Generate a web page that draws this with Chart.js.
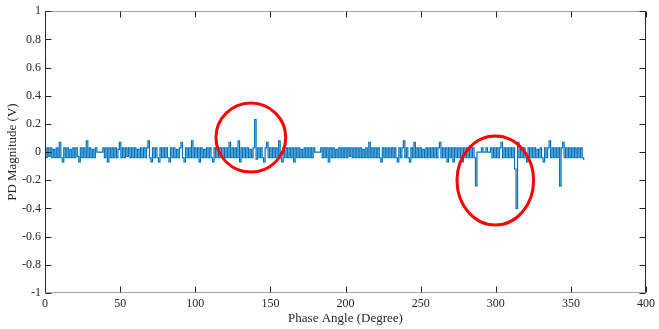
<!DOCTYPE html>
<html>
<head>
<meta charset="utf-8">
<script src="https://cdn.jsdelivr.net/npm/chart.js@4.4.0/dist/chart.umd.min.js"></script>
<style>
  html, body { margin: 0; padding: 0; background: #ffffff; }
  #wrap { width: 659px; height: 329px; }
</style>
</head>
<body>
<div id="wrap"><canvas id="pdChart"></canvas></div>
<script>
const lineBlue = '#0072BD';
const axisDark = '#262626';
const axisGrey = '#a6a6a6';
const ringRed = '#FF0000';
const serif = "'Liberation Serif', 'Times New Roman', serif";

// sampling grid: one sample per degree starting at 0
const phaseStart = 0;
const phaseStep = 1;

// PD magnitude (V), one value per degree 0..359
const magnitude = [
    0.03,-0.04,0.03,-0.03,0.03,-0.04,0.02,-0.04,0.03,-0.04,
    0.07,-0.04,-0.07,0.03,-0.04,0.03,-0.04,0.02,-0.04,0.03,
    -0.04,0.03,-0.03,-0.07,0.03,-0.04,0.03,-0.04,0.08,-0.04,
    0.03,-0.04,0.02,-0.04,0.03,0,0,0,0,0.03,
    -0.04,0.03,-0.07,0.03,-0.04,0.03,-0.04,0.03,-0.04,0.02,
    0.07,-0.04,0.03,-0.04,0.03,-0.03,0.03,-0.04,0.03,-0.04,
    0.03,-0.04,0.02,-0.04,0.03,-0.04,0.03,-0.04,0.03,0.08,
    -0.04,-0.07,0.03,-0.04,0.03,-0.04,-0.07,0.03,-0.04,0.03,
    -0.04,0.03,-0.04,-0.07,0.03,-0.04,0.03,-0.04,0.02,-0.04,
    0.03,0.07,-0.04,-0.07,0.03,-0.04,0.03,-0.04,0.08,-0.04,
    0.03,-0.04,0.03,-0.07,0.03,-0.04,0.02,-0.04,0.03,-0.04,
    0.03,-0.04,-0.07,0.03,-0.04,0.03,-0.04,0.03,-0.03,0.03,
    -0.04,0.03,-0.04,0.07,-0.04,0.03,-0.04,0.03,-0.04,0.08,
    -0.07,0.03,-0.04,0.03,-0.04,0.03,-0.04,0.02,-0.04,0.03,
    0.23,-0.05,0.03,-0.04,0.03,-0.04,-0.07,0.03,0.07,-0.04,
    0.03,-0.04,0.03,-0.04,0.03,-0.04,0.08,-0.04,-0.07,0.03,
    -0.04,0.03,-0.04,0.03,-0.04,0.03,-0.07,0.03,-0.04,0.03,
    -0.04,0.02,-0.04,0.03,-0.04,0.03,-0.04,0.03,-0.04,0.03,
    0,0,0,0,0.03,-0.04,0.03,-0.04,0.03,-0.07,
    0.03,-0.04,0.03,-0.04,0.02,-0.04,0.03,-0.04,0.03,-0.04,
    0.03,-0.04,0.03,-0.03,0.03,-0.04,0.03,-0.04,0.03,-0.04,
    0.03,-0.04,0.02,-0.04,0.03,-0.04,0.07,-0.04,0.03,-0.04,
    0.03,-0.04,0.03,-0.04,-0.07,0.03,-0.04,0.03,-0.04,0.03,
    -0.04,0.03,-0.04,0.03,-0.04,-0.07,0.03,-0.04,0.03,0.08,
    -0.04,0.03,-0.04,-0.07,0.03,-0.04,0.07,-0.04,0.03,-0.04,
    0.03,-0.04,0.02,-0.04,0.03,-0.04,0.03,-0.04,0.03,-0.04,
    0.03,-0.04,0.03,0.07,-0.04,0.03,-0.04,0.03,-0.07,0.03,
    -0.04,0.03,-0.07,0.03,-0.04,0.03,-0.04,0.03,-0.07,0.03,
    -0.04,0.03,-0.04,0.03,-0.04,0.03,-0.04,-0.24,0,0,
    0,0.03,0,0,0.03,0,0,0.03,-0.04,0.03,
    -0.04,0.03,-0.04,0.03,0.07,-0.04,0.03,-0.04,0.03,-0.04,
    0.03,-0.04,0.03,-0.12,-0.40,0.07,-0.04,0.03,-0.04,0.03,
    -0.04,-0.07,0.03,-0.04,0.03,-0.04,0.03,-0.04,0.02,-0.04,
    0.03,-0.04,-0.07,0.03,-0.04,0.03,0.08,-0.04,0.03,-0.04,
    0.03,-0.04,0.03,-0.24,0.03,0.07,-0.04,0.03,-0.04,0.03,
    -0.04,0.03,-0.04,0.03,-0.04,0.03,-0.04,0.03,-0.04,-0.05
];
const phase = magnitude.map((v, i) => phaseStart + i * phaseStep);

// axis ranges and ticks
const xMin = 0, xMax = 400, xStep = 50;
const yMin = -1, yMax = 1, yStep = 0.2;

// red highlight rings, in data units (phase, volts)
const ringPhase = [137, 299.7];
const ringVolt = [0.103, -0.202];
const ringPhaseRadius = [23.2, 25.5];
const ringVoltRadius = [0.245, 0.316];

const frameTicks = {
    id: 'frameTicks',
    afterDatasetsDraw(chart) {
        const { ctx, chartArea: a, scales: { x, y } } = chart;
        const L = Math.round(a.left) + 0.5, R = Math.round(a.right) - 0.5;
        const T = Math.round(a.top) + 0.5, B = Math.round(a.bottom) - 0.5;
        const tl = 6;
        ctx.save();
        ctx.lineWidth = 1;
        ctx.strokeStyle = axisGrey;
        ctx.beginPath();
        ctx.moveTo(L, T); ctx.lineTo(R, T);
        ctx.moveTo(L, B); ctx.lineTo(R, B);
        ctx.stroke();
        ctx.strokeStyle = axisDark;
        ctx.beginPath();
        ctx.moveTo(L, T); ctx.lineTo(L, B);
        ctx.moveTo(R, T); ctx.lineTo(R, B);
        x.ticks.forEach(t => {
            const px = Math.round(x.getPixelForValue(t.value)) + 0.5;
            ctx.moveTo(px, B); ctx.lineTo(px, B - tl);
            ctx.moveTo(px, T); ctx.lineTo(px, T + tl);
        });
        y.ticks.forEach(t => {
            const py = Math.round(y.getPixelForValue(t.value)) + 0.5;
            ctx.moveTo(L, py); ctx.lineTo(L + tl, py);
            ctx.moveTo(R, py); ctx.lineTo(R - tl, py);
        });
        ctx.stroke();

        // highlight rings
        ctx.strokeStyle = ringRed;
        ctx.lineWidth = 3;
        ringPhase.forEach((p, i) => {
            const cx = x.getPixelForValue(p);
            const cy = y.getPixelForValue(ringVolt[i]);
            const rx = Math.abs(x.getPixelForValue(p + ringPhaseRadius[i]) - cx);
            const ry = Math.abs(y.getPixelForValue(ringVolt[i] + ringVoltRadius[i]) - cy);
            ctx.beginPath();
            ctx.ellipse(cx, cy, rx, ry, 0, 0, Math.PI * 2);
            ctx.stroke();
        });
        ctx.restore();
    }
};

const pdCtx = document.getElementById('pdChart').getContext('2d');
new Chart(pdCtx, {
    type: 'line',
    data: {
        labels: phase,
        datasets: [{
            label: 'PD Magnitude',
            data: magnitude,
            borderColor: lineBlue,
            borderWidth: 1.2,
            pointRadius: 0,
            stepped: 'middle',
            fill: false
        }]
    },
    options: {
        responsive: true,
        maintainAspectRatio: false,
        animation: false,
        layout: { padding: { top: 11, right: 10, left: 0, bottom: 0 } },
        scales: {
            x: {
                type: 'linear',
                min: xMin,
                max: xMax,
                afterFit: s => { s.height = 36; },
                ticks: {
                    stepSize: xStep,
                    color: axisDark,
                    padding: 4,
                    maxRotation: 0,
                    font: { family: serif, size: 12 }
                },
                grid: { display: false, drawTicks: false },
                border: { display: false },
                title: {
                    display: true,
                    text: 'Phase Angle (Degree)',
                    color: axisDark,
                    font: { family: serif, size: 13 },
                    padding: { top: 0, bottom: 3 }
                }
            },
            y: {
                min: yMin,
                max: yMax,
                afterFit: s => { s.width = 45; },
                ticks: {
                    stepSize: yStep,
                    color: axisDark,
                    padding: 4,
                    font: { family: serif, size: 12 },
                    callback: v => String(+v.toFixed(1))
                },
                grid: { display: false, drawTicks: false },
                border: { display: false },
                title: {
                    display: true,
                    text: 'PD Magnitude (V)',
                    color: axisDark,
                    font: { family: serif, size: 13 },
                    padding: { top: 5, bottom: 0 }
                }
            }
        },
        plugins: {
            legend: { display: false },
            tooltip: { enabled: false }
        }
    },
    plugins: [frameTicks]
});
</script>
</body>
</html>
